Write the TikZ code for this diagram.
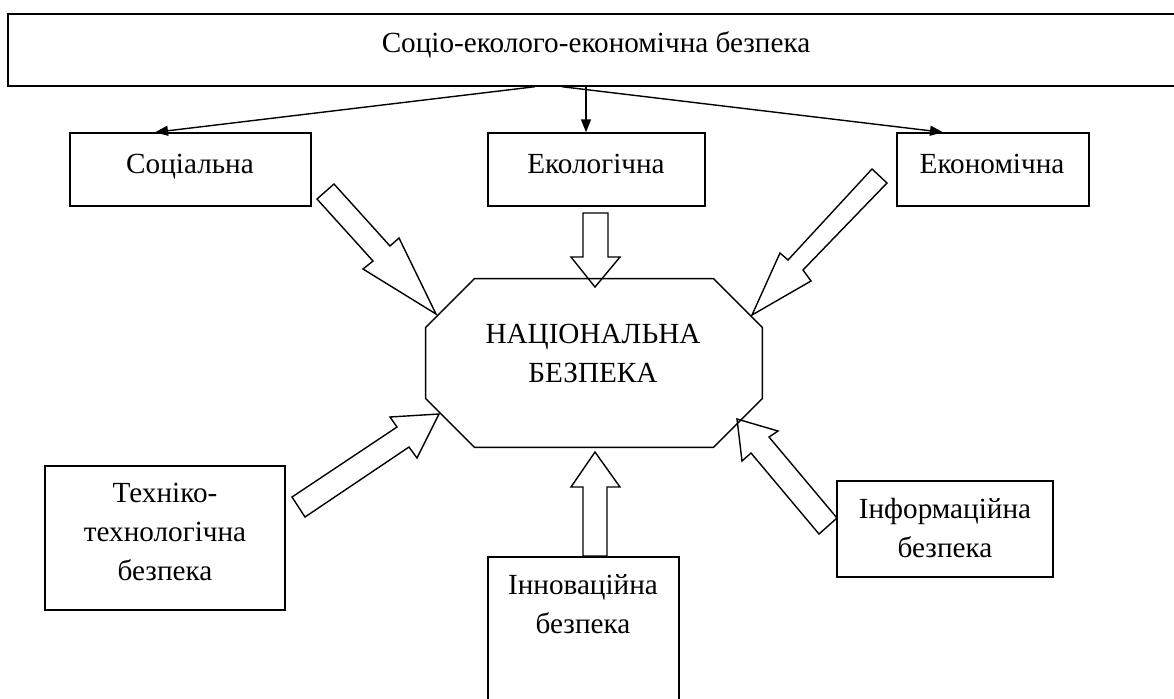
\documentclass[tikz,border=0pt]{standalone}
\usepackage{fontspec}
\setmainfont{Liberation Serif}
\usetikzlibrary{arrows.meta,calc}
\begin{document}
\begin{tikzpicture}[x=0.5pt,y=-0.5pt,
  box/.style={draw,line width=0.7pt,inner sep=0pt},
  txt/.style={font=\fontsize{14.6}{19.3}\selectfont,inner sep=0pt,anchor=base,align=center},
  conn/.style={line width=0.7pt,-{Triangle[length=6.5pt,width=5pt]}},
  blockarrow/.style={draw,line width=0.7pt,line join=miter}]
\useasboundingbox (0,0) rectangle (1174,698);
% boxes
\node[box,minimum width=588pt,minimum height=36pt] (top) at (596,50) {};
\node[box,minimum width=120.5pt,minimum height=36.5pt] (soc) at (190.5,169.5) {};
\node[box,minimum width=108.5pt,minimum height=36.5pt] (eco) at (596.5,169.5) {};
\node[box,minimum width=96pt,minimum height=36.5pt] (ekon) at (993,169.5) {};
\node[box,minimum width=120pt,minimum height=72pt] (tech) at (165,538) {};
\node[box,minimum width=95.5pt,minimum height=85pt] (innov) at (583.5,642) {};
\node[box,minimum width=108pt,minimum height=48pt] (inform) at (945,529) {};
\node[inner sep=0pt,minimum width=168pt,minimum height=84pt] (nat) at (594,363) {};
% octagon
\draw[line width=0.7pt,line join=miter]
  ($(nat.north west)+(49,0)$) -- ($(nat.north east)+(-49,0)$) -- ($(nat.north east)+(0,49)$)
  -- ($(nat.south east)+(0,-49)$) -- ($(nat.south east)+(-49,0)$) -- ($(nat.south west)+(49,0)$)
  -- ($(nat.south west)+(0,-49)$) -- ($(nat.north west)+(0,49)$) -- cycle;
% texts (anchor = baseline of the last line)
\node[txt] (toptxt) at (596,52) {Соціо-еколого-економічна безпека};
\node[txt] (soctxt) at (190,173) {Соціальна};
\node[txt] (ecotxt) at (596,173) {Екологічна};
\node[txt] (ekontxt) at (992,173) {Економічна};
\node[txt] (nattxt) at (593,382) {НАЦІОНАЛЬНА\\БЕЗПЕКА};
\node[txt] (techtxt) at (165,580) {Техніко-\\технологічна\\безпека};
\node[txt] (innovtxt) at (583,633) {Інноваційна\\безпека};
\node[txt] (informtxt) at (945,557) {Інформаційна\\безпека};
% connectors
\draw[conn] ([xshift=-30.5pt]top.south) -- ([xshift=-17.75pt]soc.north);
\draw[conn] ([xshift=-5pt]top.south) -- ([xshift=-5.25pt]eco.north);
\draw[conn] ([xshift=-17pt]top.south) -- ([xshift=-25pt]ekon.north);
% block arrows
\draw[blockarrow] (317,199) -- (334,184) -- (390,246) -- (399,238) -- (436,314) -- (363,269) -- (373,261) -- cycle;
\draw[blockarrow] (583,213) -- (608,213) -- (608,257) -- (620,257) -- (595,287) -- (571,257) -- (583,257) -- cycle;
\draw[blockarrow] (872,169) -- (887,183) -- (803,270) -- (811,281) -- (752,315) -- (780,253) -- (788,260) -- cycle;
\draw[blockarrow] (292,497) -- (305,517) -- (409,447) -- (417,458) -- (439,414) -- (390,417) -- (397,427) -- cycle;
\draw[blockarrow] (583,556) -- (607,556) -- (607,487) -- (620,487) -- (595,452) -- (571,487) -- (583,487) -- cycle;
\draw[blockarrow] (737,419) -- (778,431) -- (769,437) -- (837,518) -- (819,534) -- (751,453) -- (742,461) -- cycle;
\end{tikzpicture}
\end{document}
